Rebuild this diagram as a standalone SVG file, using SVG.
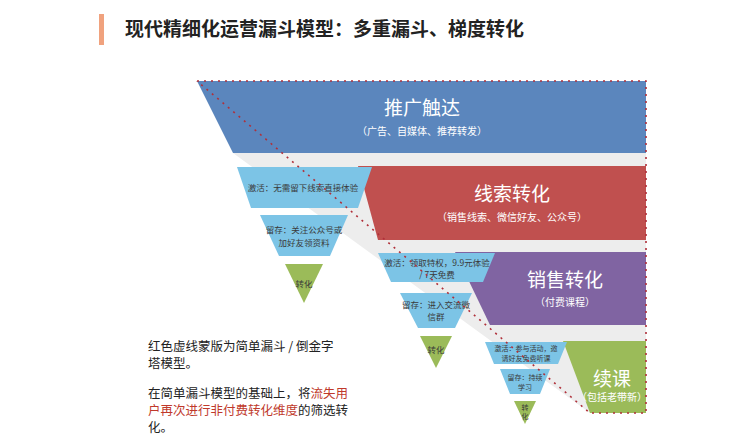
<svg xmlns="http://www.w3.org/2000/svg" width="730" height="445" viewBox="0 0 730 445">
<style>
text{font-family:"Noto Sans CJK SC","Liberation Sans",sans-serif}
.big{fill:#fff;font-size:19px;text-anchor:middle}
.sub{fill:#fff;font-size:10px;text-anchor:middle}
.f{fill:#7cc4e6}
.ft{fill:#3a3a3a;font-size:8.5px;text-anchor:middle}
.fs{fill:#3a3a3a;font-size:7px;text-anchor:middle}
.tri{fill:#9bbb59}
.note{fill:#222;font-size:12.5px}
</style>
<rect width="730" height="445" fill="#fff"/>
<rect x="99" y="14" width="5" height="31" fill="#f0a27e"/>
<text x="125" y="36" font-size="19" font-weight="bold" fill="#222">现代精细化运营漏斗模型：多重漏斗、梯度转化</text>
<g id="bg">
<polygon points="233,153 646,153 646,413 590,413" fill="#ededed"/>
</g>
<g id="band1"><polygon points="197,81 646,81 646,153 233,153" fill="#5b86bd"/>
<text class="big" x="422" y="115">推广触达</text><text class="sub" x="422" y="135">（广告、自媒体、推荐转发）</text></g>
<g id="band2"><polygon points="358,166 646,166 646,240 378,240" fill="#c0504f"/>
<text class="big" x="512" y="201">线索转化</text><text class="sub" x="512" y="221">（销售线索、微信好友、公众号）</text></g>
<g id="band3"><polygon points="455,252 646,252 646,325 490,325" fill="#8064a2"/>
<text class="big" x="565" y="287">销售转化</text><text class="sub" x="565" y="306">（付费课程）</text></g>
<g id="band4"><polygon points="563,341 646,341 646,413 590,413" fill="#9bbb59"/>
<text class="big" x="612" y="386" font-size="17">续课</text><text class="sub" x="612" y="401" font-size="6.5">（包括老带新）</text></g>
<g id="f1a"><polygon class="f" points="237,167 372,167 358,208 251,208"/><text class="ft" x="303" y="191">激活：无需留下线索直接体验</text></g>
<g id="f1b"><polygon class="f" points="260,215 348,215 330,256 279,256"/><text class="ft" x="304" y="233">留存：关注公众号或</text><text class="ft" x="304" y="246">加好友领资料</text></g>
<g id="f1c"><polygon class="tri" points="285,264 323,264 304,303"/><text class="ft" x="304" y="287">转化</text></g>
<g id="f2a"><polygon class="f" points="378,253 495,253 483,282 391,282"/><text class="ft" x="437" y="266">激活：领取特权，9.9元体验</text><text class="ft" x="437" y="278">/ 7天免费</text></g>
<g id="f2b"><polygon class="f" points="400,293 472,293 455,328 418,328"/><text class="ft" x="436" y="308">留存：进入交流微</text><text class="ft" x="436" y="320">信群</text></g>
<g id="f2c"><polygon class="tri" points="420,336 452,336 436,368"/><text class="ft" x="436" y="353">转化</text></g>
<g id="f3a"><polygon class="f" points="485,342 567,342 558,364 494,364"/><text class="fs" x="526" y="351">激活：参与活动，邀</text><text class="fs" x="526" y="361">请好友免费听课</text></g>
<g id="f3b"><polygon class="f" points="500,369 550,369 540,394 510,394"/><text class="fs" x="525" y="380">留存：持续</text><text class="fs" x="525" y="390">学习</text></g>
<g id="f3c"><polygon class="tri" points="514,401 536,401 525,424"/><text class="fs" x="525" y="410">转</text><text class="fs" x="525" y="419">化</text></g>
<g id="connectors" fill="none" stroke="#b0303a" stroke-width="1.6" stroke-dasharray="2,5">
<polyline points="197,81 646,81 646,413 590,413 197,81"/>
</g>
<g id="notes">
<text class="note" x="148" y="351">红色虚线蒙版为简单漏斗 / 倒金字</text>
<text class="note" x="148" y="368">塔模型。</text>
<text class="note" x="148" y="398">在简单漏斗模型的基础上，将<tspan fill="#c0392b">流失用</tspan></text>
<text class="note" x="148" y="415"><tspan fill="#c0392b">户再次进行非付费转化维度</tspan>的筛选转</text>
<text class="note" x="148" y="432">化。</text>
</g>
</svg>
